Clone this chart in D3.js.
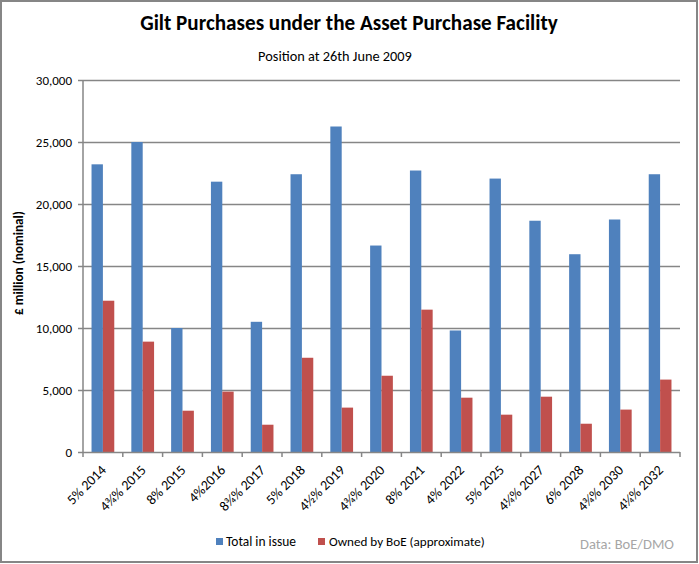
<!DOCTYPE html>
<html><head><meta charset="utf-8">
<script src="https://cdn.jsdelivr.net/npm/d3@7"></script>
<style>body{margin:0;background:#fff}svg{display:block}</style>
</head><body>
<svg id="c" width="699" height="564"></svg>
<script>
const categories = ["5% 2014","4¾% 2015","8% 2015","4%2016","8¾% 2017","5% 2018","4½% 2019","4¾% 2020","8% 2021","4% 2022","5% 2025","4¼% 2027","6% 2028","4¾% 2030","4¼% 2032"];
const totalInIssue = [23200,25000,10000,21800,10500,22400,26250,16650,22700,9800,22050,18650,15950,18750,22400];
const ownedByBoE = [12200,8900,3330,4870,2200,7600,3580,6150,11480,4380,3010,4460,2280,3420,5840];
const seriesNames = ["Total in issue","Owned by BoE (approximate)"];
const yTicks = [0,5000,10000,15000,20000,25000,30000];

const font = "Carlito, 'Open Sans', 'Liberation Sans', sans-serif";
const svg = d3.select("#c");
const colors = ["#4F81BD","#C0504D"];
const grid = "#868686";

svg.append("rect").attr("x",1).attr("y",1).attr("width",696).attr("height",561)
  .attr("fill","#fff").attr("stroke",grid).attr("stroke-width",2);

function fitText(sel, w){
  const n = sel.node(); const L = n.getComputedTextLength();
  const fs = parseFloat(sel.attr("font-size"));
  sel.attr("font-size", fs*w/L);
}

const x0 = d3.scaleBand().domain(categories).range([83,680]).paddingInner(0).paddingOuter(0);
const bw = x0.bandwidth()/3.5;
const y = d3.scaleLinear().domain([0,30000]).range([452,80]);

// gridlines
svg.append("g").selectAll("line").data(yTicks.slice(1)).join("line")
  .attr("x1",83).attr("x2",680).attr("y1",d=>Math.round(y(d))+0.5).attr("y2",d=>Math.round(y(d))+0.5)
  .attr("stroke",grid).attr("stroke-width",1.5);

// bars
const g = svg.append("g");
[totalInIssue, ownedByBoE].forEach((vals,si)=>{
  g.append("g").selectAll("rect").data(vals).join("rect")
    .attr("x",(d,i)=>x0(categories[i]) + bw*0.75 + si*bw)
    .attr("width",bw)
    .attr("y",d=>y(d)).attr("height",d=>y(0)-y(d))
    .attr("fill",colors[si]);
});

// y axis
const ya = svg.append("g").attr("transform","translate(83,0)")
  .call(d3.axisLeft(y).tickValues(yTicks).tickSize(5).tickPadding(6).tickFormat(d3.format(",")));
ya.select(".domain").attr("stroke",grid).attr("stroke-width",1.5).attr("d","M0,80V452");
ya.selectAll(".tick line").attr("stroke",grid).attr("stroke-width",1.5);
ya.selectAll("text").attr("font-family",font).attr("font-size",13).attr("fill","#000");

// x axis
const xa = svg.append("g").attr("transform","translate(0,452)");
xa.append("line").attr("x1",83).attr("x2",680).attr("y1",0.5).attr("y2",0.5).attr("stroke",grid).attr("stroke-width",1.5);
xa.selectAll(".tk").data(categories.concat(["end"])).join("line")
  .attr("x1",(d,i)=>83+i*x0.bandwidth()).attr("x2",(d,i)=>83+i*x0.bandwidth())
  .attr("y1",0).attr("y2",5).attr("stroke",grid).attr("stroke-width",1.5);
xa.selectAll(".lbl").data(categories).join("text")
  .attr("transform",d=>`translate(${x0(d)+x0.bandwidth()/2+4},${19}) rotate(-45)`)
  .attr("text-anchor","end").attr("font-family",font).attr("font-size",14)
  .attr("fill","#000").text(d=>d);

// axis title
const at = svg.append("text").attr("transform","translate(23,263) rotate(-90)")
  .attr("text-anchor","middle").attr("font-family",font).attr("font-weight","bold")
  .attr("font-size",12).text("£ million (nominal)");
fitText(at,104);

// titles
const t = svg.append("text").attr("x",349).attr("y",30).attr("text-anchor","middle")
  .attr("font-family",font).attr("font-weight","bold").attr("font-size",18).text("Gilt Purchases under the Asset Purchase Facility");
fitText(t,418);
const st = svg.append("text").attr("x",335).attr("y",61).attr("text-anchor","middle")
  .attr("font-family",font).attr("font-size",13).text("Position at 26th June 2009");
fitText(st,154);

// legend
const lg = svg.append("g");
const lx = [216,318];
seriesNames.forEach((n,i)=>{
  lg.append("rect").attr("x",lx[i]).attr("y",538).attr("width",7).attr("height",7).attr("fill",colors[i]);
});
const l1 = lg.append("text").attr("x",226).attr("y",546).attr("font-family",font).attr("font-size",12.5).text(seriesNames[0]);
fitText(l1,70);
const l2 = lg.append("text").attr("x",329).attr("y",546).attr("font-family",font).attr("font-size",12.5).text(seriesNames[1]);
fitText(l2,156);
const src = svg.append("text").attr("x",580).attr("y",549).attr("font-family",font).attr("font-size",13)
  .attr("fill","#a6a6a6").text("Data: BoE/DMO");
fitText(src,94);
</script>
</body></html>
